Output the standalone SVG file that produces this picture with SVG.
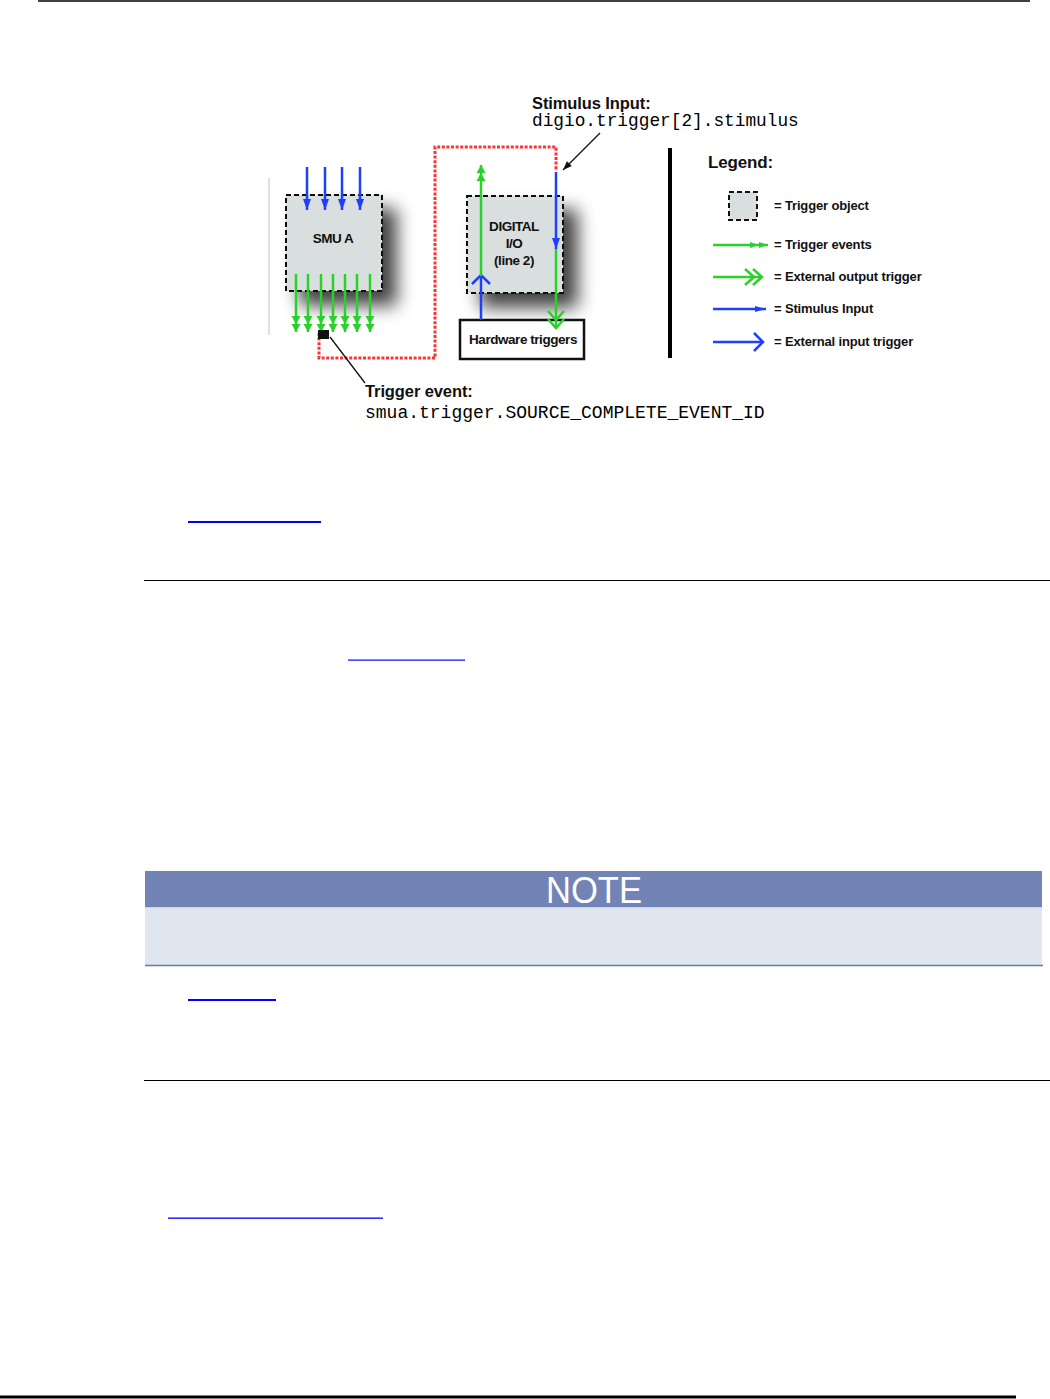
<svg xmlns="http://www.w3.org/2000/svg" width="1050" height="1399" viewBox="0 0 1050 1399">
<style>
.t{font-family:"Liberation Sans",Arial,sans-serif;fill:#111;font-weight:bold;letter-spacing:-0.45px}
.lg{letter-spacing:-0.15px}
.m{font-family:"Liberation Mono","Courier New",monospace;fill:#000}
.obj{fill:#d9dfdf;stroke:#111;stroke-width:2;stroke-dasharray:5,3}
.g{stroke:#2ad12a;stroke-width:2.5;fill:none}
.b{stroke:#1f3fff;stroke-width:2.5;fill:none}
.red{stroke:#ff3333;stroke-width:3;fill:none;stroke-dasharray:3,1.6}
.rule{stroke:#000;stroke-width:1.2}
.link{fill:#0000ff}
</style>
<defs>
<filter id="sh" x="-40%" y="-40%" width="200%" height="200%">
<feGaussianBlur in="SourceAlpha" stdDeviation="9"/>
<feOffset dx="14" dy="14" result="o"/>
<feComponentTransfer><feFuncA type="linear" slope="0.75"/></feComponentTransfer>
<feMerge><feMergeNode/><feMergeNode in="SourceGraphic"/></feMerge>
</filter>
<marker id="gdbl" viewBox="-17 -5 18 10" markerWidth="18" markerHeight="10" refX="0" refY="0" orient="auto" markerUnits="userSpaceOnUse">
<path d="M-16,-4.5 L-8,0 L-16,4.5 Z M-8,-4.5 L0,0 L-8,4.5 Z" fill="#2ad12a"/>
</marker>
<marker id="gdblS" viewBox="-19 -4 20 8" markerWidth="20" markerHeight="8" refX="0" refY="0" orient="auto" markerUnits="userSpaceOnUse">
<path d="M-18,-3 L-9,0 L-18,3 Z M-9,-3 L0,0 L-9,3 Z" fill="#2ad12a"/>
</marker>
<marker id="btri" viewBox="-12 -5 13 10" markerWidth="13" markerHeight="10" refX="0" refY="0" orient="auto" markerUnits="userSpaceOnUse">
<path d="M-11,-4 L0,0 L-11,4 Z" fill="#1f3fff"/>
</marker>
<marker id="btriS" viewBox="-12 -4 13 8" markerWidth="13" markerHeight="8" refX="0" refY="0" orient="auto" markerUnits="userSpaceOnUse">
<path d="M-11,-3 L0,0 L-11,3 Z" fill="#1f3fff"/>
</marker>
<marker id="gchev" viewBox="-20 -10 22 20" markerWidth="22" markerHeight="20" refX="0" refY="0" orient="auto" markerUnits="userSpaceOnUse">
<path d="M-17,-8 L-8,0 L-17,8 M-9,-8 L0,0 L-9,8" stroke="#2ad12a" stroke-width="2.5" fill="none"/>
</marker>
<marker id="bchev" viewBox="-12 -11 14 22" markerWidth="14" markerHeight="22" refX="0" refY="0" orient="auto" markerUnits="userSpaceOnUse">
<path d="M-9,-9 L0,0 L-9,9" stroke="#1f3fff" stroke-width="2.5" fill="none"/>
</marker>
<marker id="blk" viewBox="-10 -5 11 10" markerWidth="11" markerHeight="10" refX="0" refY="0" orient="auto" markerUnits="userSpaceOnUse">
<path d="M-9,-3.5 L0,0 L-9,3.5 Z" fill="#111"/>
</marker>
</defs>

<g id="page">
<line x1="38" y1="1" x2="1030" y2="1" stroke="#000" stroke-width="1.5"/>
<line x1="0" y1="1397" x2="1016" y2="1397" stroke="#000" stroke-width="3"/>
<rect class="link" x="188" y="521" width="133" height="2"/>
<line class="rule" x1="144" y1="580.5" x2="1050" y2="580.5"/>
<rect class="link" x="348" y="659.5" width="117" height="1.2"/>
<rect class="link" x="188" y="999" width="88" height="2"/>
<line class="rule" x1="144" y1="1080.5" x2="1050" y2="1080.5"/>
<rect class="link" x="168" y="1217.5" width="215" height="1.3"/>
</g>

<g id="note">
<rect x="145" y="871" width="897" height="36.5" fill="#7284b6"/>
<rect x="145" y="907.5" width="897" height="57.5" fill="#dfe6f0"/>
<line x1="145" y1="965.5" x2="1043" y2="965.5" stroke="#5a80b4" stroke-width="1.5"/>
<text x="594" y="903" text-anchor="middle" font-family="'Liberation Sans',Arial,sans-serif" font-size="36" fill="#fff" transform="translate(594 0) scale(0.96 1) translate(-594 0)">NOTE</text>
</g>

<line x1="269" y1="178" x2="269" y2="335" stroke="#c0c0c0" stroke-width="1"/>

<g id="smua">
<rect class="obj" x="286" y="195" width="96" height="96" filter="url(#sh)"/>
<text class="t" x="333" y="243" text-anchor="middle" font-size="13.5">SMU A</text>
</g>

<g id="digio">
<rect class="obj" x="467" y="196" width="96" height="97" filter="url(#sh)"/>
<text class="t" x="514" y="231" text-anchor="middle" font-size="13.5">DIGITAL</text>
<text class="t" x="514" y="248" text-anchor="middle" font-size="13.5">I/O</text>
<text class="t" x="514" y="265" text-anchor="middle" font-size="13.5">(line 2)</text>
</g>

<g id="hw">
<rect x="460" y="320" width="124" height="39" fill="#fff" stroke="#111" stroke-width="2.5"/>
<text class="t" x="523" y="344" text-anchor="middle" font-size="13.5">Hardware triggers</text>
</g>

<g id="connectors">
<line class="b" x1="307" y1="167" x2="307" y2="210" marker-end="url(#btri)"/>
<line class="b" x1="325" y1="167" x2="325" y2="210" marker-end="url(#btri)"/>
<line class="b" x1="342" y1="167" x2="342" y2="210" marker-end="url(#btri)"/>
<line class="b" x1="360" y1="167" x2="360" y2="210" marker-end="url(#btri)"/>
<line class="g" x1="296" y1="274" x2="296" y2="332" marker-end="url(#gdbl)"/>
<line class="g" x1="308" y1="274" x2="308" y2="332" marker-end="url(#gdbl)"/>
<line class="g" x1="321" y1="274" x2="321" y2="332" marker-end="url(#gdbl)"/>
<line class="g" x1="333" y1="274" x2="333" y2="332" marker-end="url(#gdbl)"/>
<line class="g" x1="345" y1="274" x2="345" y2="332" marker-end="url(#gdbl)"/>
<line class="g" x1="357" y1="274" x2="357" y2="332" marker-end="url(#gdbl)"/>
<line class="g" x1="370" y1="274" x2="370" y2="332" marker-end="url(#gdbl)"/>
<path class="red" d="M319,333 V358 H435 V147 H556 V171"/>
<rect x="318" y="330" width="11" height="9" fill="#111"/>
<line class="b" x1="481" y1="320" x2="481" y2="275" marker-end="url(#bchev)"/>
<line class="g" x1="481" y1="276" x2="481" y2="165" marker-end="url(#gdbl)"/>
<line class="b" x1="556" y1="172" x2="556" y2="249" marker-end="url(#btri)"/>
<line class="g" x1="556" y1="249" x2="556" y2="328" marker-end="url(#gchev)"/>
<line x1="600" y1="133" x2="563" y2="170" stroke="#111" stroke-width="1.3" marker-end="url(#blk)"/>
<line x1="330" y1="337" x2="365" y2="383" stroke="#111" stroke-width="1.3"/>
</g>

<g id="labels">
<text class="t" x="532" y="109" font-size="16.5" style="letter-spacing:-0.1px">Stimulus Input:</text>
<text class="m" x="532" y="126" font-size="17.8">digio.trigger[2].stimulus</text>
<text class="t" x="365" y="397" font-size="16.5" style="letter-spacing:-0.1px">Trigger event:</text>
<text class="m" x="365" y="418" font-size="18">smua.trigger.SOURCE_COMPLETE_EVENT_ID</text>
</g>

<g id="legend">
<line x1="670" y1="148" x2="670" y2="358" stroke="#000" stroke-width="4"/>
<text class="t lg" x="708" y="168" font-size="17">Legend:</text>
<rect class="obj" x="729" y="192" width="28" height="28"/>
<text class="t lg" x="774" y="210" font-size="13">= Trigger object</text>
<line class="g" x1="713" y1="245" x2="768" y2="245" marker-end="url(#gdblS)"/>
<text class="t lg" x="774" y="249" font-size="13">= Trigger events</text>
<line class="g" x1="713" y1="277" x2="762" y2="277" marker-end="url(#gchev)"/>
<text class="t lg" x="774" y="281" font-size="13">= External output trigger</text>
<line class="b" x1="713" y1="309" x2="766" y2="309" marker-end="url(#btriS)"/>
<text class="t lg" x="774" y="313" font-size="13">= Stimulus Input</text>
<line class="b" x1="713" y1="342" x2="763" y2="342" marker-end="url(#bchev)"/>
<text class="t lg" x="774" y="346" font-size="13">= External input trigger</text>
</g>
</svg>
